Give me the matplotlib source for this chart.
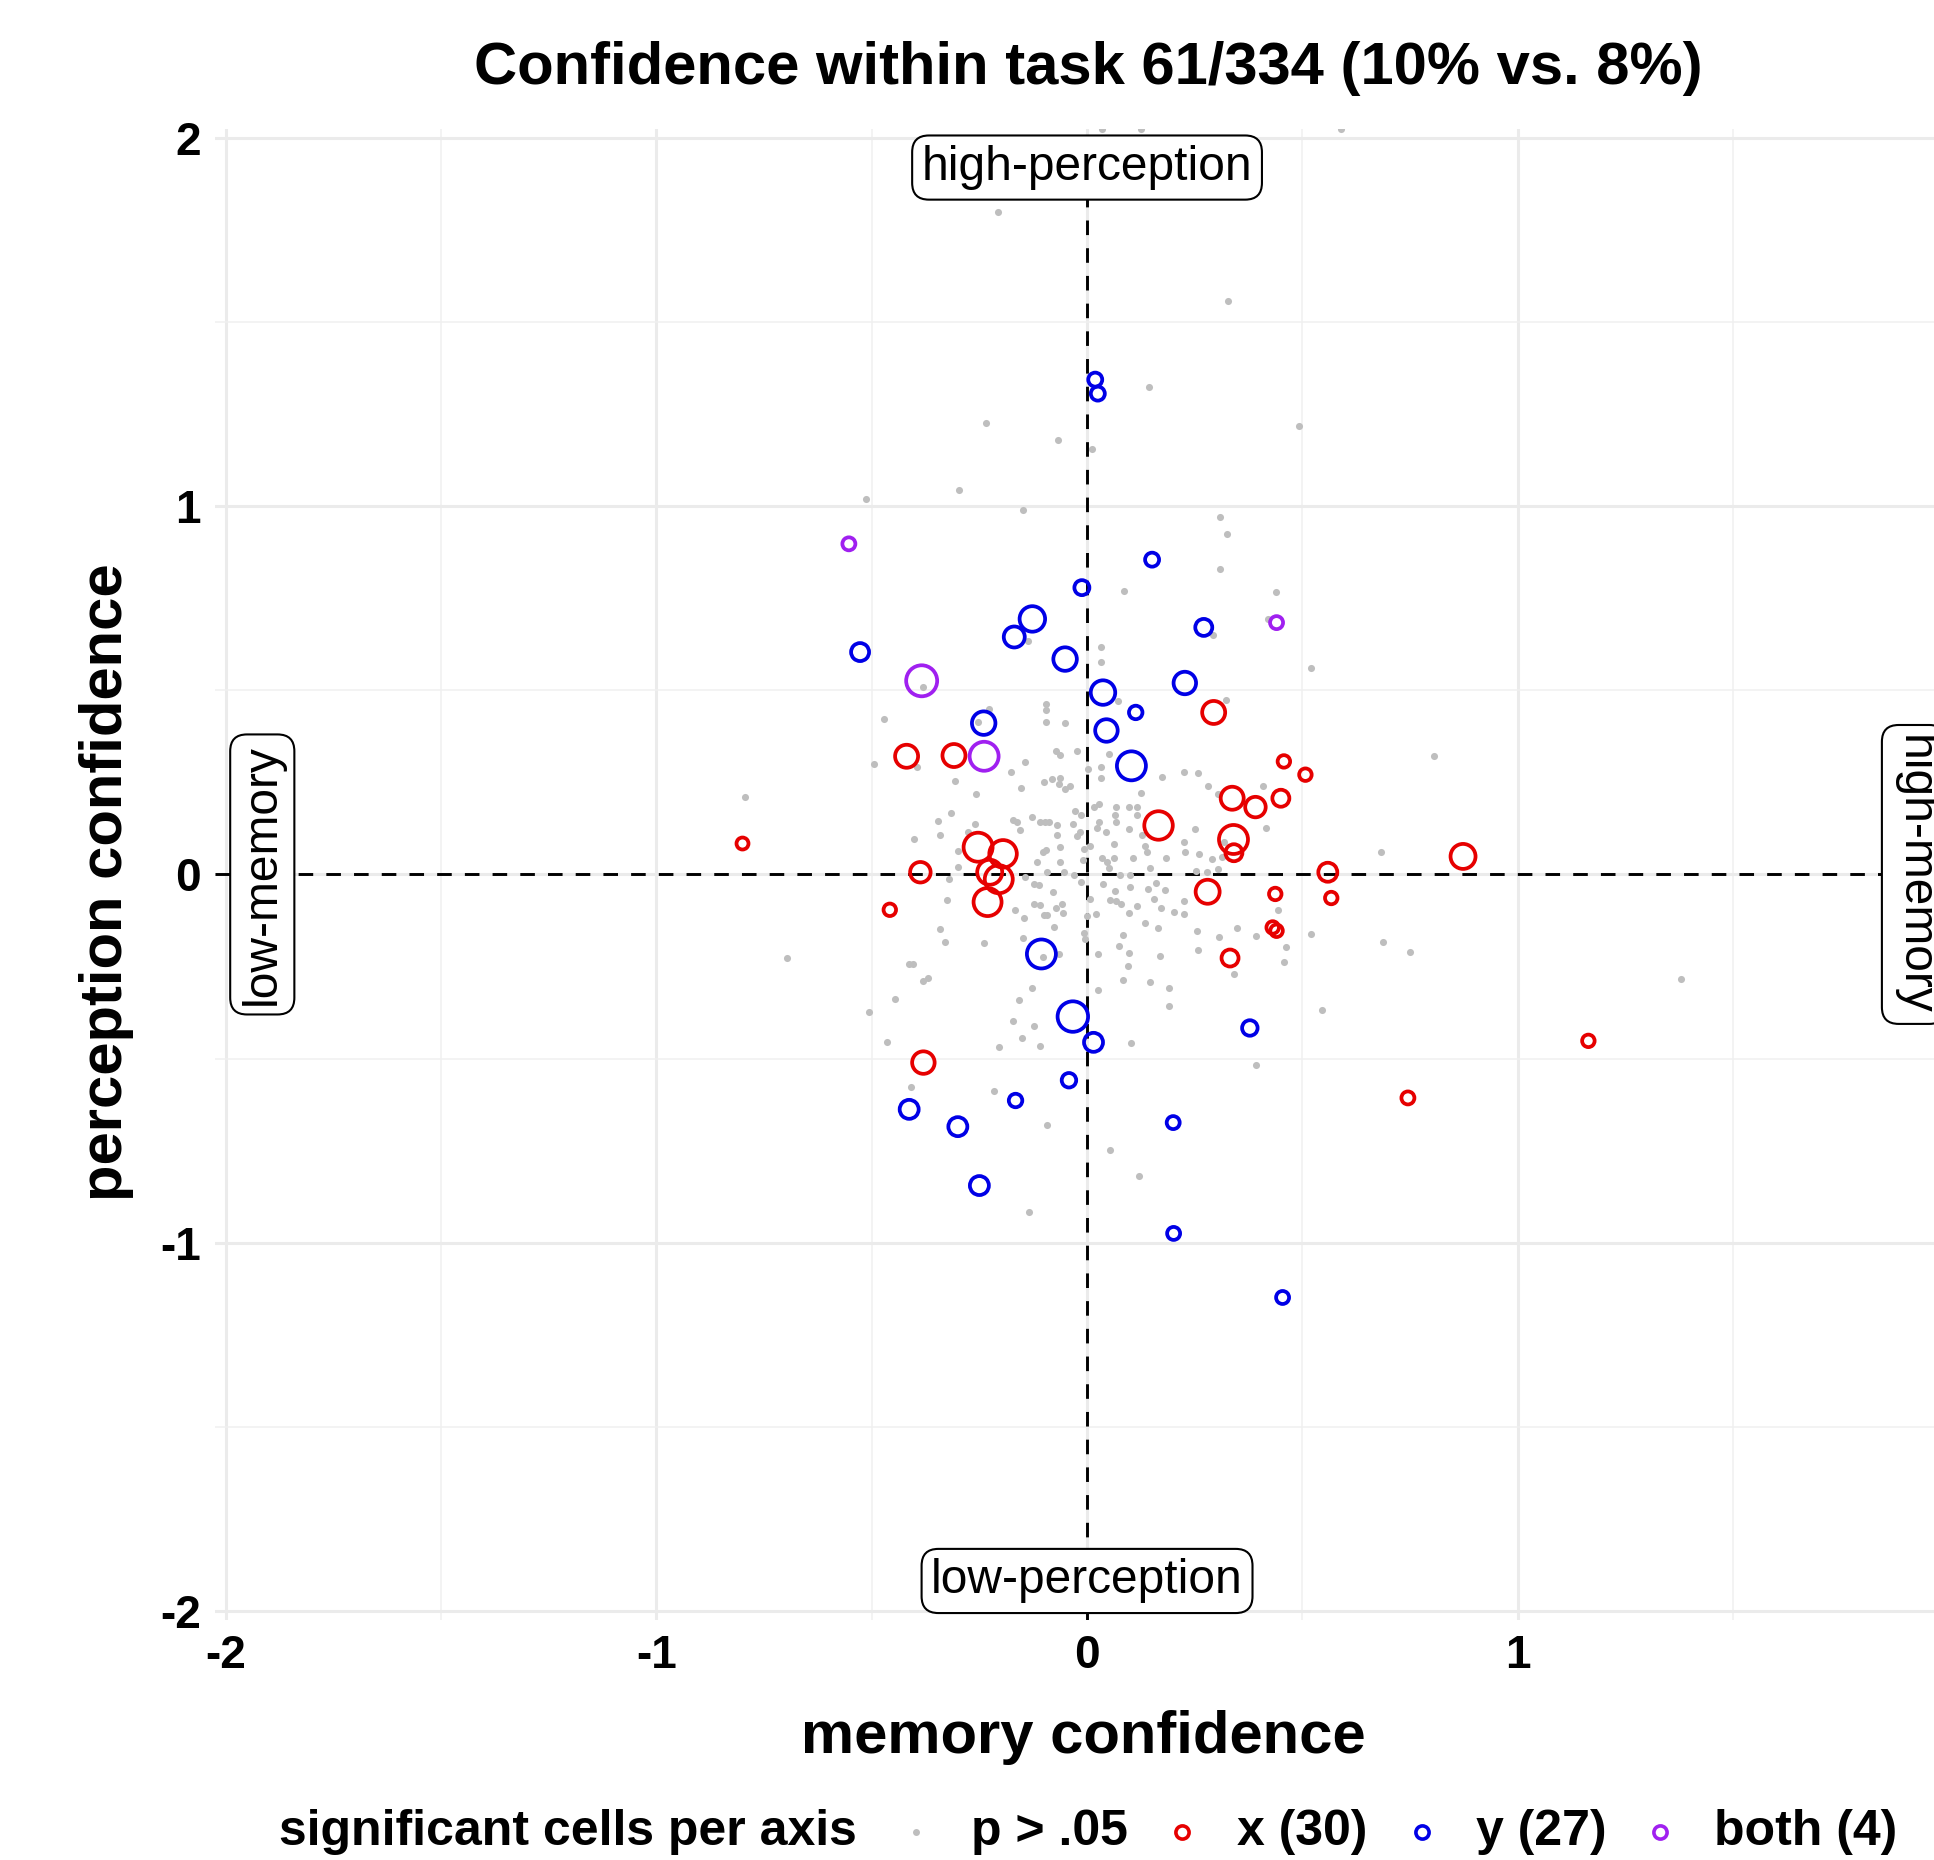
import matplotlib
matplotlib.use('Agg')
import matplotlib.pyplot as plt
from matplotlib.lines import Line2D
import numpy as np

plt.rcParams['font.family'] = ['Liberation Sans', 'DejaVu Sans']
plt.rcParams['axes.unicode_minus'] = False

# ---- data ----
# non-significant cells (grey dots)
gray_x = [
    -0.206, 0.034, 0.126, 0.59, 0.328, -0.234, -0.067, 0.011, 0.143, 0.491,
    -0.297, -0.514, -0.148, 0.309, 0.325, 0.309, 0.085, 0.439, 0.421, -0.138,
    0.292, -0.254, -0.495, -0.395, -0.794,
    -0.38, -0.471, -0.095, -0.096, -0.095, -0.052, -0.228, -0.073, -0.062, -0.023,
    -0.144, -0.177, 0.002, -0.306, -0.154, -0.1, -0.081, -0.062, -0.066, -0.052,
    -0.04, -0.259, -0.316, -0.346, -0.341, -0.401, -0.26, -0.276, -0.171, -0.162,
    -0.156, -0.127, -0.11, -0.097, -0.089, -0.069, -0.069, -0.033, -0.027, -0.014,
    -0.017, -0.023, -0.063, -0.102, -0.095, -0.116, -0.062, -0.006, 0.008, -0.009,
    -0.3, -0.054, -0.031, -0.092, -0.144, -0.3, 0.033, 0.033, 0.071, 0.052,
    0.033, 0.033, 0.016, 0.027, 0.068, 0.097, 0.116, 0.066, 0.067, 0.116,
    0.027, 0.023, 0.044, 0.097, 0.062, 0.035, 0.047, 0.062, 0.106, 0.05,
    0.077, 0.1,
    0.52, 0.322, 0.175, 0.224, 0.258, 0.28, 0.303, 0.409, 0.416, 0.25,
    0.226, 0.228, 0.26, 0.183, 0.289, 0.303, 0.253, 0.278, 0.147, 0.135,
    0.139, 0.128, 0.126, 0.317, 0.313, 0.683,
    -0.326, -0.341, -0.33, -0.239, -0.413, -0.404, -0.38, -0.37, -0.445, -0.465,
    -0.409, -0.215, -0.204, -0.171, -0.15, -0.123, -0.109, -0.159, -0.127, -0.102,
    -0.064, -0.148, -0.168, -0.147, -0.123, -0.11, -0.1, -0.092, -0.072, -0.055,
    -0.058, -0.076, -0.079, -0.123, -0.111, -0.015, 0.006, 0.0, -0.006, -0.004,
    0.021, 0.036, 0.066, 0.053, 0.068, 0.079, 0.099, 0.117, 0.097, 0.084,
    0.074, 0.026, 0.098, 0.096, 0.084, 0.026, 0.102,
    0.141, 0.16, 0.182, 0.155, 0.172, 0.226, 0.202, 0.224, 0.135, 0.165,
    0.256, 0.307, 0.348, 0.392, 0.444, 0.462, 0.458, 0.258, 0.169, 0.342,
    0.147, 0.191, 0.191, 0.52, 0.688, 0.545, 0.392,
    -0.094, 0.054, 0.121, -0.135,
    0.805, 0.749, 1.38,
    -0.32, -0.506, -0.697,
]
gray_y = [
    1.799, 2.025, 2.025, 2.025, 1.558, 1.225, 1.18, 1.155, 1.323, 1.217,
    1.045, 1.02, 0.989, 0.972, 0.925, 0.829, 0.77, 0.768, 0.693, 0.633,
    0.651, 0.415, 0.301, 0.293, 0.211,
    0.51, 0.423, 0.463, 0.447, 0.415, 0.41, 0.449, 0.336, 0.325, 0.336,
    0.305, 0.277, 0.286, 0.255, 0.236, 0.25, 0.26, 0.261, 0.246, 0.232,
    0.241, 0.219, 0.166, 0.144, 0.106, 0.096, 0.136, 0.116, 0.148, 0.142,
    0.121, 0.155, 0.142, 0.142, 0.142, 0.133, 0.107, 0.137, 0.173, 0.162,
    0.114, 0.105, 0.074, 0.06, 0.067, 0.035, 0.035, 0.068, 0.076, 0.039,
    0.065, 0.006, -0.001, 0.006, -0.006, 0.021, 0.617, 0.577, 0.47, 0.327,
    0.291, 0.261, 0.184, 0.192, 0.183, 0.184, 0.184, 0.162, 0.143, 0.162,
    0.143, 0.126, 0.115, 0.123, 0.083, 0.044, 0.035, 0.044, 0.044, 0.017,
    -0.001, -0.001,
    0.56, 0.474, 0.266, 0.279, 0.275, 0.24, 0.219, 0.24, 0.127, 0.123,
    0.088, 0.06, 0.056, 0.044, 0.042, 0.016, 0.01, 0.006, 0.018, 0.076,
    0.062, 0.107, 0.221, 0.088, 0.048, 0.062,
    -0.069, -0.148, -0.184, -0.186, -0.243, -0.243, -0.289, -0.282, -0.338, -0.454,
    -0.578, -0.589, -0.469, -0.398, -0.445, -0.412, -0.466, -0.34, -0.308, -0.224,
    -0.215, -0.173, -0.097, -0.119, -0.08, -0.084, -0.109, -0.109, -0.091, -0.104,
    -0.08, -0.143, -0.049, -0.026, -0.03, -0.02, -0.067, -0.113, -0.16, -0.176,
    -0.107, -0.026, -0.044, -0.069, -0.073, -0.08, -0.033, -0.086, -0.104, -0.164,
    -0.193, -0.216, -0.214, -0.249, -0.286, -0.315, -0.458,
    -0.04, -0.024, -0.042, -0.067, -0.091, -0.073, -0.102, -0.107, -0.131, -0.145,
    -0.154, -0.169, -0.145, -0.167, -0.097, -0.198, -0.239, -0.204, -0.221, -0.27,
    -0.291, -0.308, -0.356, -0.163, -0.183, -0.369, -0.518,
    -0.68, -0.748, -0.819, -0.917,
    0.322, -0.211, -0.284,
    -0.013, -0.374, -0.228,
]

# significant on memory axis only
red_x = [-0.80, -0.419, -0.309, 0.294, 0.457, 0.507, 0.337, 0.391, 0.45, 0.166,
         0.34, 0.341, 0.873, 0.559, 0.567, 0.28, 0.437, 0.431, 0.44, 0.332,
         -0.387, -0.458, -0.253, -0.195, -0.226, -0.205, -0.231, -0.38, 1.164, 0.745]
red_y = [0.084, 0.321, 0.323, 0.44, 0.307, 0.271, 0.207, 0.183, 0.207, 0.133,
         0.095, 0.059, 0.049, 0.006, -0.064, -0.047, -0.053, -0.144, -0.153, -0.227,
         0.006, -0.096, 0.074, 0.056, 0.006, -0.013, -0.075, -0.511, -0.452, -0.607]
red_mag = [1.3, 2.4, 2.4, 2.4, 1.35, 1.35, 2.4, 2.15, 1.8, 2.95,
           3.0, 1.8, 2.6, 2.0, 1.35, 2.5, 1.35, 1.35, 1.35, 1.8,
           2.15, 1.35, 3.0, 2.85, 2.6, 2.9, 2.9, 2.35, 1.35, 1.4]

# significant on perception axis only
blue_x = [0.019, 0.025, 0.151, -0.012, -0.127, -0.169, 0.271, -0.527, -0.051, 0.227,
          0.037, 0.113, -0.24, 0.045, 0.103, -0.106, -0.033, 0.015, 0.378, -0.042,
          -0.166, -0.413, -0.30, 0.20, -0.25, 0.201, 0.454]
blue_y = [1.344, 1.306, 0.855, 0.779, 0.694, 0.645, 0.671, 0.604, 0.585, 0.52,
          0.494, 0.44, 0.411, 0.391, 0.295, -0.216, -0.386, -0.456, -0.417, -0.559,
          -0.614, -0.638, -0.685, -0.674, -0.845, -0.975, -1.149]
blue_mag = [1.5, 1.5, 1.5, 1.6, 2.65, 2.2, 1.8, 1.9, 2.45, 2.35,
            2.55, 1.45, 2.45, 2.35, 3.0, 3.0, 3.15, 2.0, 1.65, 1.55,
            1.45, 2.0, 2.0, 1.4, 2.0, 1.4, 1.4]

# significant on both axes
both_x = [-0.553, 0.44, -0.384, -0.239]
both_y = [0.898, 0.684, 0.526, 0.321]
both_mag = [1.4, 1.4, 3.2, 3.0]

legend_labels = ['p > .05', 'x (30)', 'y (27)', 'both (4)']
ticks = [-2, -1, 0, 1, 2]
minor_ticks = [-1.5, -0.5, 0.5, 1.5]

# ---- figure ----
DPI = 100
W, H = 1934, 1860
fig = plt.figure(figsize=(W / DPI, H / DPI), dpi=DPI, facecolor='white')

PT = 72.0 / DPI  # points per pixel


def mag_to_s(m):
    r_px = 5 * np.asarray(m) - 0.5
    return (2 * r_px * PT) ** 2


# panel is a bit wider than the canvas (right side is cropped, like the source)
ax = fig.add_axes([214.9 / W, (H - 1620) / H, 1744.3 / W, 1491.1 / H])
ax.set_xlim(-2.025, 2.025)
ax.set_ylim(-2.025, 2.025)
for sp in ax.spines.values():
    sp.set_visible(False)
ax.set_xticks(ticks)
ax.set_yticks(ticks)
ax.set_xticks(minor_ticks, minor=True)
ax.set_yticks(minor_ticks, minor=True)
ax.grid(which='major', color='#ebebeb', lw=2.2)
ax.grid(which='minor', color='#f0f0f0', lw=1.1)
ax.set_axisbelow(True)
ax.tick_params(which='both', length=0)
ax.tick_params(which='major', labelsize=33, pad=10)
for lab in ax.get_xticklabels() + ax.get_yticklabels():
    lab.set_fontweight('bold')

dash = (0, (5, 4.5))
ax.axhline(0, color='black', lw=2.1, ls=dash, zorder=2)
ax.axvline(0, color='black', lw=2.1, ls=dash, zorder=2)

GREY = '#bebebe'
RED = '#e60000'
BLUE = '#0000e6'
PURPLE = '#a020f0'

ax.scatter(gray_x, gray_y, s=26, color=GREY, linewidths=0, zorder=3)
ax.scatter(red_x, red_y, s=mag_to_s(red_mag), facecolors='none',
           edgecolors=RED, linewidths=2.7, zorder=4)
ax.scatter(blue_x, blue_y, s=mag_to_s(blue_mag), facecolors='none',
           edgecolors=BLUE, linewidths=2.7, zorder=4)
ax.scatter(both_x, both_y, s=mag_to_s(both_mag), facecolors='none',
           edgecolors=PURPLE, linewidths=2.7, zorder=4)

box = dict(boxstyle='round,pad=0.2,rounding_size=0.35', fc='white', ec='black', lw=1.5)
ax.text(0, 1.92, 'high-perception', ha='center', va='center', fontsize=34.5, bbox=box, zorder=6)
ax.text(0, -1.919, 'low-perception', ha='center', va='center', fontsize=34.5, bbox=box, zorder=6)
ax.text(-1.915, 0, 'low-memory', ha='center', va='center', fontsize=34.5, rotation=90,
        bbox=box, zorder=6)
ax.text(1.92, 0, 'high-memory', ha='center', va='center', fontsize=34.5, rotation=270,
        bbox=box, zorder=6)

# titles
fig.text(1088 / W, 1 - 68 / H, 'Confidence within task 61/334 (10% vs. 8%)',
         ha='center', va='center', fontsize=43, fontweight='bold')
fig.text(1083 / W, 1 - 1737 / H, 'memory confidence',
         ha='center', va='center', fontsize=43, fontweight='bold')
fig.text(106 / W, 1 - 882 / H, 'perception confidence', rotation=90,
         ha='center', va='center', fontsize=43, fontweight='bold')

# legend along the bottom
ly = 1 - 1832 / H
fig.text(278.7 / W, ly, 'significant cells per axis', ha='left', va='center',
         fontsize=36, fontweight='bold')
key_x = [916.4, 1181.6, 1422.1, 1660.2]
text_x = [970.7, 1237.1, 1476.3, 1714.4]
key_style = [
    dict(marker='o', ms=5, mfc=GREY, mec=GREY, mew=0),
    dict(marker='o', ms=9.5, mfc='none', mec=RED, mew=2.6),
    dict(marker='o', ms=9.5, mfc='none', mec=BLUE, mew=2.6),
    dict(marker='o', ms=9.5, mfc='none', mec=PURPLE, mew=2.6),
]
for kx, tx, lab, st in zip(key_x, text_x, legend_labels, key_style):
    fig.add_artist(Line2D([kx / W], [ly], ls='none', transform=fig.transFigure, **st))
    fig.text(tx / W, ly, lab, ha='left', va='center', fontsize=36, fontweight='bold')

fig.savefig('out.png', dpi=DPI, facecolor='white')
